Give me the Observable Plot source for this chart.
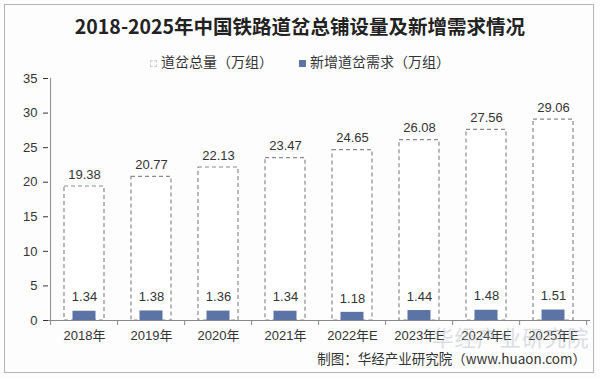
<!DOCTYPE html>
<html><head><meta charset="utf-8">
<script src="https://cdn.jsdelivr.net/npm/d3@7"></script>
<script src="https://cdn.jsdelivr.net/npm/@observablehq/plot@0.6"></script>
<style>
body{margin:0;background:#fff;font-family:"Liberation Sans",Arial,"Noto Sans CJK SC",sans-serif;}
#wrap{position:relative;width:600px;height:379px;overflow:hidden;background:#fdfdfe;}
#frame{position:absolute;left:4px;top:4px;width:590px;height:369px;border:1px solid #b5b5b5;box-sizing:border-box;}
#title{position:absolute;left:0;top:11px;width:600px;text-align:center;font:bold 19.5px "Noto Sans CJK SC",sans-serif;color:#222;white-space:nowrap;}
#legend{position:absolute;left:0;top:51px;width:600px;text-align:center;font:14px "Noto Sans CJK SC",sans-serif;color:#333;white-space:nowrap;}
#legend span.item{margin:0 13px;}
.sw{display:inline-block;width:7px;height:7px;margin-right:4px;vertical-align:middle;}
#caption{position:absolute;right:14px;top:348px;font:13.5px "Noto Sans CJK SC",sans-serif;color:#333;white-space:nowrap;}
#wm{position:absolute;left:432px;top:321px;font:21.5px "Noto Sans CJK SC",sans-serif;color:#a7afbf;opacity:0.4;letter-spacing:1px;white-space:nowrap;}
#chart{position:absolute;left:0;top:0;}
</style></head>
<body>
<div id="wrap">
<div id="chart"></div>
<div id="frame"></div>
<div id="title"></div>
<div id="legend"></div>
<div id="wm">华经产业研究院</div>
<div id="caption"></div>
</div>
<script>
const titleText = "2018-2025年中国铁路道岔总铺设量及新增需求情况";
const seriesNames = ["道岔总量（万组）", "新增道岔需求（万组）"];
const years = ["2018年","2019年","2020年","2021年","2022年E","2023年E","2024年E","2025年E"];
const totals = [19.38, 20.77, 22.13, 23.47, 24.65, 26.08, 27.56, 29.06];
const newDemand = [1.34, 1.38, 1.36, 1.34, 1.18, 1.44, 1.48, 1.51];
const yTicks = [0,5,10,15,20,25,30,35];
const captionText = "制图：华经产业研究院（www.huaon.com）";

const blue = "#5b74a5";
const data = years.map((y,i)=>({year:y,total:totals[i],add:newDemand[i]}));

document.getElementById("title").textContent = titleText;
document.getElementById("caption").textContent = captionText;
document.getElementById("legend").innerHTML =
  `<span class="item"><span class="sw" style="border:1px dashed #ccc;width:5px;height:5px"></span>${seriesNames[0]}</span>` +
  `<span class="item"><span class="sw" style="background:${blue}"></span>${seriesNames[1]}</span>`;

const chart = Plot.plot({
  width: 600, height: 379,
  marginTop: 78, marginBottom: 59, marginLeft: 48, marginRight: 10,
  style: {background: "transparent", fontFamily: '"Liberation Sans",Arial,"Noto Sans CJK SC",sans-serif', fontSize: "13px", color: "#333"},
  x: {domain: years, paddingInner: 0.4, paddingOuter: 0.2, label: null, tickSize: 0, tickPadding: 10},
  y: {domain: [0, 35], ticks: yTicks, label: null, tickSize: 5, tickPadding: 6},
  marks: [
    Plot.barY(data, {x: "year", y: "total", fill: "white", stroke: "#8a8a8a", strokeDasharray: "4,3", strokeWidth: 1.2}),
    Plot.barY(data, {x: "year", y: "add", fill: blue, insetLeft: 8.5, insetRight: 8.5}),
    Plot.text(data, {x: "year", y: "total", text: d => d.total.toFixed(2), dy: -12, fontSize: 13, fill: "#333"}),
    Plot.text(data, {x: "year", y: "add", text: d => d.add.toFixed(2), dy: -14, fontSize: 13, fill: "#333"}),
    Plot.ruleY([0], {stroke: "#888"})
  ]
});
document.getElementById("chart").appendChild(chart);

// y axis line and category boundary ticks, placed with the plot's own scales
const sx = chart.scale("x");
const sy = chart.scale("y");
const svg = d3.select(chart);
const g = svg.append("g").attr("stroke", "#888");
const x0 = sx.apply(years[0]) - sx.step * sx.paddingOuter;
g.append("line").attr("x1", x0).attr("x2", x0).attr("y1", sy.apply(35)).attr("y2", sy.apply(0));
for (let i = 0; i <= years.length; i++) {
  const xb = x0 + i * sx.step;
  g.append("line").attr("x1", xb).attr("x2", xb).attr("y1", sy.apply(0)).attr("y2", sy.apply(0) + 5);
}
</script>
</body></html>
